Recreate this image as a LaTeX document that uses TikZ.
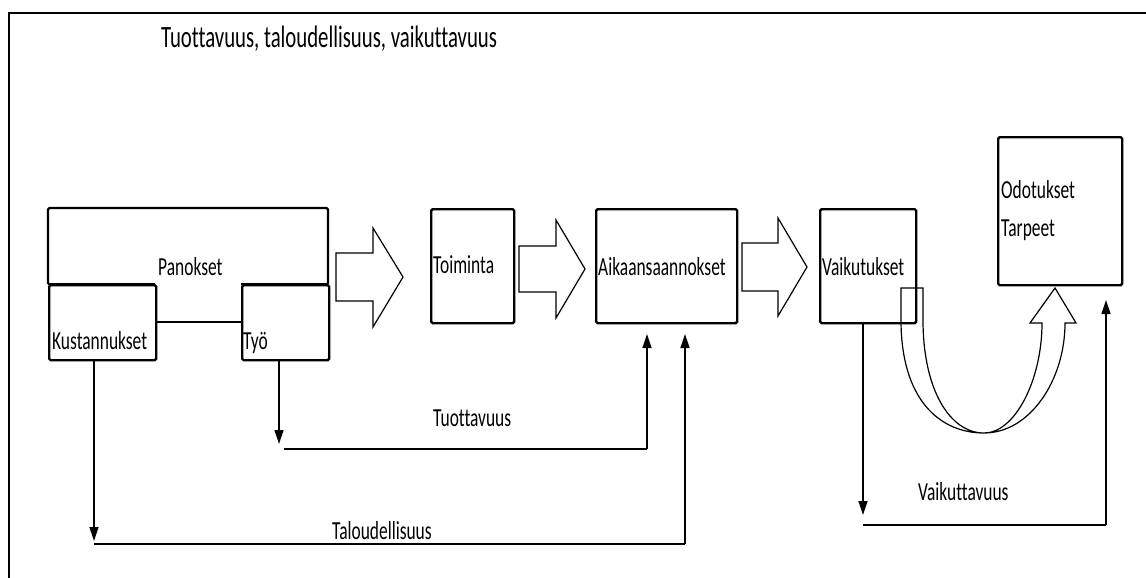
\documentclass[tikz,border=0pt]{standalone}
\usepackage{fontspec}
\setmainfont{Carlito}[FakeStretch=0.67,Ligatures=NoCommon]
\usetikzlibrary{arrows.meta}
\begin{document}
\begin{tikzpicture}[x=1pt,y=-1pt,
  box/.style={draw,line width=2.4pt,rounded corners=1.5pt,inner sep=0pt,anchor=north west},
  lbl/.style={inner sep=0pt,anchor=base west,font=\fontsize{26}{30}\selectfont},
  conn/.style={line width=1.3pt},
  tip/.style={-{Triangle[length=14pt,width=9pt]}},
  fat/.style={draw,line width=1.2pt,line join=miter}]
\useasboundingbox (0,0) rectangle (1146,578);
% frame
\draw[line width=2.6pt] (1150,13) -- (9,13) -- (9,582);
\node[lbl,font=\fontsize{31}{36}\selectfont] (title) at (161,48) {Tuottavuus, taloudellisuus, vaikuttavuus};
% Panokset
\draw[line width=2.4pt,rounded corners=1.5pt] (48,284) -- (48,208) -- (328,208) -- (328,284);
\draw[line width=2.4pt] (48,284) -- (155,284);
\draw[line width=2.4pt] (241,284) -- (328,284);
\node[box,minimum width=107pt,minimum height=75pt] (kust) at (48,284) {};
\node[box,minimum width=87pt,minimum height=75pt] (tyo) at (241,284) {};
\draw[line width=2.4pt] (kust.east |- 0,322) -- (tyo.west |- 0,322);
\node[lbl] (pan) at (158,275) {Panokset};
\node[lbl] (kustl) at (52,349) {Kustannukset};
\node[lbl] (tyol) at (243,349) {Työ};
% other boxes
\node[box,minimum width=83pt,minimum height=114pt] (toim) at (430,208) {};
\node[lbl] (toiml) at (433,273) {Toiminta};
\node[box,minimum width=141pt,minimum height=114pt] (aik) at (595,208) {};
\node[lbl] (aikl) at (598,275) {Aikaansaannokset};
\node[box,minimum width=96pt,minimum height=114pt] (vai) at (819,208) {};
\node[lbl] (vail) at (822,275) {Vaikutukset};
\node[box,minimum width=124pt,minimum height=148pt] (odo) at (997,136) {};
\node[lbl] (odol) at (1001,198) {Odotukset};
\node[lbl] (tarl) at (1001,236) {Tarpeet};
% big arrows
\draw[fat] (336,253) -- (373,253) -- (373,228) -- (403,277) -- (373,327) -- (373,301) -- (336,301) -- cycle;
\draw[fat] (519,246) -- (556,246) -- (556,220) -- (585,269) -- (556,318) -- (556,292) -- (519,292) -- cycle;
\draw[fat] (742,243) -- (778,243) -- (778,218) -- (807,267) -- (778,316) -- (778,291) -- (742,291) -- cycle;
% U arrow
\draw[fat] (923,288) -- (901,288) -- (901,320) .. controls (901,400) and (940,433) .. (984,433)
  .. controls (1030,433) and (1065,380) .. (1065,323) -- (1076,323) -- (1055,288) -- (1030,323) -- (1042,323)
  .. controls (1042,380) and (1015,433) .. (984,433) .. controls (950,433) and (923,390) .. (923,320) -- cycle;
% connectors
\coordinate (k0) at (94,359);
\coordinate (k1) at (94,541);
\coordinate (t0) at (94,544);
\coordinate (t1) at (685,544);
\coordinate (t2) at (685,334);
\draw[conn,tip] (k0) -- (k1);
\draw[conn] (t0) -- (t1);
\draw[conn,tip] (t1) -- (t2);
\coordinate (w0) at (279,359);
\coordinate (w1) at (279,444);
\coordinate (p0) at (284,449);
\coordinate (p1) at (647,449);
\coordinate (p2) at (647,334);
\draw[conn,tip] (w0) -- (w1);
\draw[conn] (p0) -- (p1);
\draw[conn,tip] (p1) -- (p2);
\coordinate (v0) at (863,322);
\coordinate (v1) at (863,515);
\coordinate (v2) at (863,525);
\coordinate (v3) at (1106,525);
\coordinate (v4) at (1106,300);
\draw[conn,tip] (v0) -- (v1);
\draw[conn] (v2) -- (v3);
\draw[conn,tip] (v3) -- (v4);
\node[lbl] (tuol) at (433,426) {Tuottavuus};
\node[lbl] (tall) at (332,539) {Taloudellisuus};
\node[lbl] (vakl) at (918,500) {Vaikuttavuus};
\end{tikzpicture}
\end{document}
